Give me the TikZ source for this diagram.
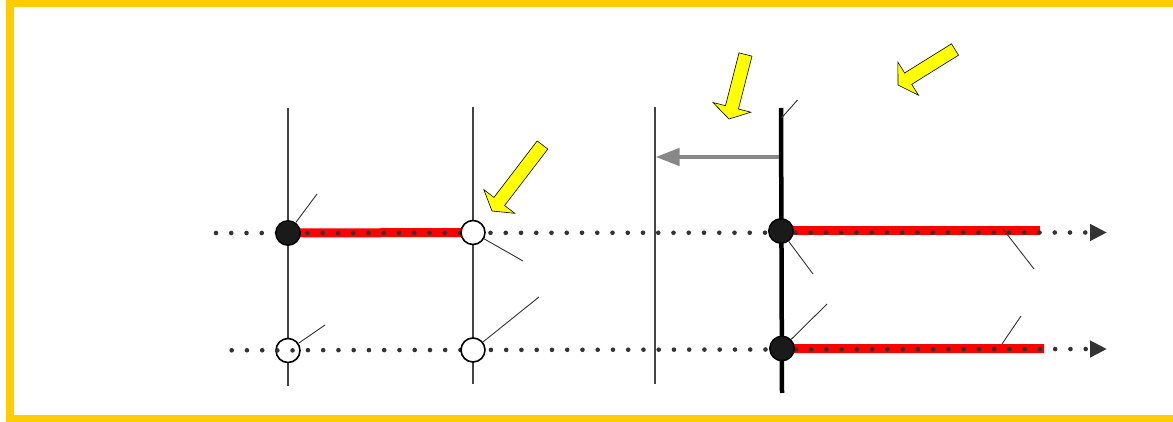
\documentclass[tikz,border=0pt]{standalone}
\usetikzlibrary{arrows.meta,calc}

\definecolor{frameyellow}{HTML}{FFCC00}
\definecolor{axisgray}{HTML}{333333}
\definecolor{linegray}{HTML}{444444}
\definecolor{pushgray}{HTML}{888888}
\definecolor{dotblack}{HTML}{1A1A1A}
\definecolor{markyellow}{HTML}{FFFF00}

\tikzset{
  frame/.style={draw=frameyellow, line width=7.5pt},
  vline/.style={draw=linegray, line width=1.4pt},
  boundary/.style={draw=black, line width=4.5pt},
  redbar/.style={draw=red, line width=9pt},
  dots/.style={draw=axisgray, line width=4.6pt, line cap=round,
               dash pattern=on 0pt off 15.25pt},
  axistip/.style={-{Triangle[length=17pt,width=16pt]}},
  leader/.style={draw=axisgray, line width=0.9pt},
  fullpt/.style={circle, draw=black, fill=dotblack, line width=1.4pt,
                 minimum size=24.5pt, inner sep=0pt},
  openpt/.style={circle, draw=black, fill=white, line width=1.6pt,
                 minimum size=24pt, inner sep=0pt},
  shift arrow/.style={draw=pushgray, line width=4.5pt,
                      -{Triangle[length=24pt,width=17pt]}},
  yarrow/.style={draw=black, fill=markyellow, line width=0.6pt, line join=miter},
}

% block arrow from a tail centre to a tip
\newcommand\yellowarrow[2]{%
  \coordinate (ya-t) at (#1);
  \coordinate (ya-h) at (#2);
  \coordinate (ya-n) at ($(ya-h)!12pt!(ya-t)$);
  \draw[yarrow] ($(ya-t)!6.7pt!90:(ya-h)$) -- ($(ya-n)!6.7pt!90:(ya-h)$)
    -- ($(ya-n)!19.5pt!90:(ya-h)$) -- (ya-h) -- ($(ya-n)!19.5pt!-90:(ya-h)$)
    -- ($(ya-n)!6.7pt!-90:(ya-h)$) -- ($(ya-t)!6.7pt!-90:(ya-h)$) -- cycle;
}

\begin{document}
\begin{tikzpicture}[x=1pt, y=-1pt]
\useasboundingbox (0,0) rectangle (1173,422);

% yellow frame (open to the right)
\draw[frame] (1200,3.7) -- (10,3.7) -- (10,418.6) -- (1200,418.6);

% vertical lines
\draw[vline] (288,108) -- (288,386);
\draw[vline] (473,107) -- (473,384);
\draw[vline] (654.8,107) -- (654.8,384);
\coordinate (bt) at (781,108);
\coordinate (bb) at (782,393);
\draw[boundary] (bt) -- (bb);

% shift of the boundary
\coordinate (sh-from) at (779,157);
\coordinate (sh-to) at (655.5,157);
\draw[shift arrow] (sh-from) -- (sh-to);

% circles (positions)
\coordinate (pa1) at (288,233);
\coordinate (pa2) at (473,232.5);
\coordinate (pb1) at (288,350.5);
\coordinate (pb2) at (473,350);
\coordinate (pc1) at (781,231);
\coordinate (pc2) at (782,348.5);

% red segments
\coordinate (ra) at (1040,231);
\coordinate (rb) at (1044,348.6);
\draw[redbar] (pa1) -- (pa2);
\draw[redbar] (pc1) -- (ra);
\draw[redbar] (pc2) -- (rb);

% dotted axes
\coordinate (x1s) at (216,233);
\coordinate (x1e) at (1107,232.5);
\coordinate (x2s) at (231.7,350.3);
\coordinate (x2e) at (1107,349);
\draw[dots, axistip] (x1s) -- (x1e);
\draw[dots, axistip] (x2s) -- (x2e);

% points
\node[fullpt] (a1) at (pa1) {};
\node[openpt] (a2) at (pa2) {};
\node[openpt] (b1) at (pb1) {};
\node[openpt] (b2) at (pb2) {};
\node[fullpt] (c1) at (pc1) {};
\node[fullpt] (c2) at (pc2) {};

% dots seen through the lower left circle
\draw[dots] (277.3,350.4) -- (293,350.4);

% leader lines
\coordinate (la1) at (317,194);
\coordinate (la2) at (523,261);
\coordinate (lb1) at (325,325);
\coordinate (lb2) at (539,297);
\coordinate (lt) at (797.5,100);
\coordinate (lc1) at (813,274);
\coordinate (lc2) at (827,304);
\coordinate (lr1a) at (1003,229);
\coordinate (lr1b) at (1034,269);
\coordinate (lr2a) at (1002,344);
\coordinate (lr2b) at (1021,316);
\draw[leader] (a1) -- (la1);
\draw[leader] (a2) -- (la2);
\draw[leader] (b1) -- (lb1);
\draw[leader] (b2) -- (lb2);
\draw[leader] (781.5,118) -- (lt);
\draw[leader] (c1) -- (lc1);
\draw[leader] (c2) -- (lc2);
\draw[leader] (lr1a) -- (lr1b);
\draw[leader] (lr2a) -- (lr2b);

% yellow markers
\yellowarrow{542.5,145}{492,211}
\yellowarrow{745.5,54.5}{729,119}
\yellowarrow{955,49.5}{898,85}
\end{tikzpicture}
\end{document}
